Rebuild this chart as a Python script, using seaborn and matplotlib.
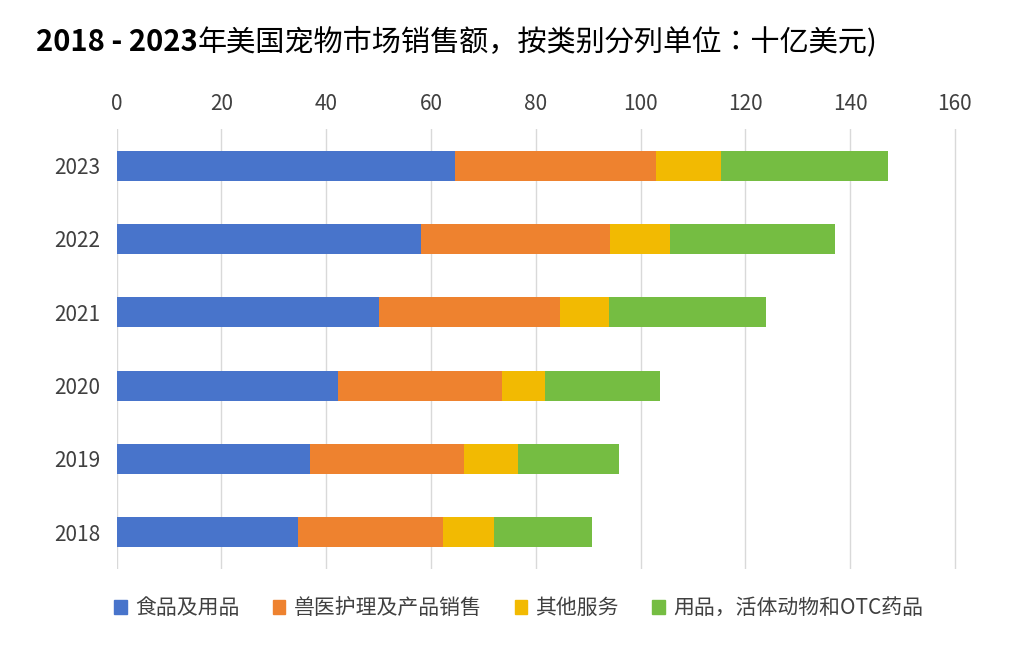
import matplotlib
matplotlib.use("Agg")
import matplotlib.pyplot as plt
from matplotlib import font_manager
from matplotlib.transforms import offset_copy
import seaborn as sns
import pandas as pd
import numpy as np

years = ["2023", "2022", "2021", "2020", "2019", "2018"]
food = [64.5, 58.0, 50.0, 42.2, 36.9, 34.6]
vet = [38.4, 36.1, 34.6, 31.3, 29.4, 27.7]
other = [12.4, 11.5, 9.3, 8.2, 10.3, 9.7]
supplies = [31.9, 31.5, 30.0, 22.0, 19.2, 18.7]
series_names = ["食品及用品", "兽医护理及产品销售", "其他服务", "用品，活体动物和OTC药品"]
colors = ["#4874CB", "#EE822F", "#F2BA02", "#75BD42"]

avail = {f.name for f in font_manager.fontManager.ttflist}
cands = [n for n in ["Noto Sans CJK SC", "Noto Sans CJK JP", "Noto Sans CJK TC", "Noto Sans CJK KR"] if n in avail]
plt.rcParams["font.family"] = "sans-serif"
plt.rcParams["font.sans-serif"] = cands + ["DejaVu Sans"]

fig = plt.figure(figsize=(10.23, 6.45), dpi=100)
ax = fig.add_axes([0.114, 0.118, 0.822, 0.682])

series = [food, vet, other, supplies]
cum = np.cumsum(np.array(series), axis=0)
for i in reversed(range(4)):
    df = pd.DataFrame({"year": years, "v": cum[i]})
    sns.barplot(data=df, x="v", y="year", color=colors[i], ax=ax, width=0.41,
                saturation=1, orient="h", zorder=3)

ax.set_xlim(0, 160.5)
ax.set_xticks(range(0, 161, 20))
ax.xaxis.tick_top()
ax.tick_params(axis="x", length=0, labelsize=15, colors="#404040", pad=10)
ax.tick_params(axis="y", length=0, labelsize=15, colors="#404040", pad=12)
ax.set_xlabel(""); ax.set_ylabel("")
ax.grid(axis="x", color="#D9D9D9", linewidth=1, zorder=0)
for s in ax.spines.values():
    s.set_visible(False)

handles = [plt.Rectangle((0, 0), 1, 1, color=c) for c in colors]
fig.legend(handles, series_names, loc="center", bbox_to_anchor=(0.507, 0.057), ncol=4,
           frameon=False, fontsize=15, handlelength=0.6, handleheight=0.6,
           columnspacing=1.6, handletextpad=0.4, labelcolor="#404040")
t1 = fig.text(0.035, 0.935, "2018 - 2023", fontsize=21, fontweight="bold",
              color="black", va="center")
fig.canvas.draw()
w = t1.get_window_extent().width
fig.text(0.035 + w / fig.bbox.width, 0.935, "年美国宠物市场销售额，按类别分列单位：十亿美元)",
         fontsize=21, color="black", va="center")
fig.savefig("out.png", dpi=100, facecolor="white")
